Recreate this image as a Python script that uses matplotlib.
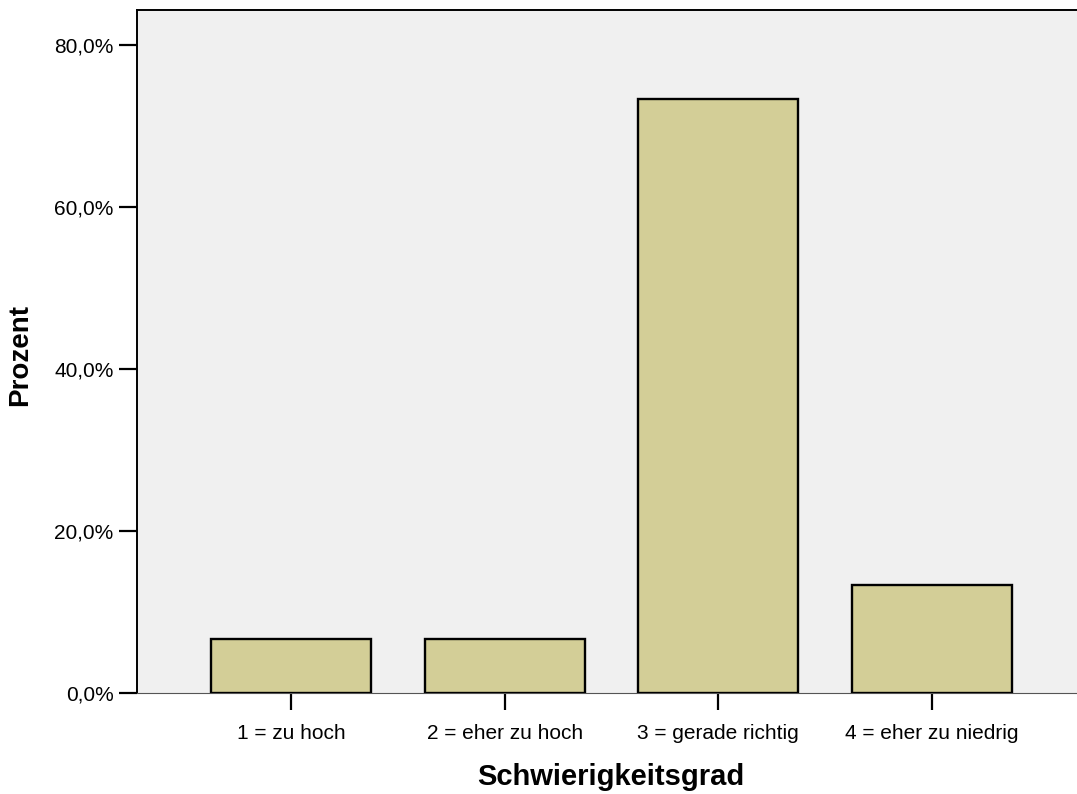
import matplotlib.pyplot as plt
from matplotlib.ticker import FuncFormatter

kategorien = ['1 = zu hoch', '2 = eher zu hoch', '3 = gerade richtig', '4 = eher zu niedrig']
prozent = [6.7, 6.7, 73.3, 13.3]
y_ticks = [0, 20, 40, 60, 80]

plt.rcParams['font.family'] = ['Liberation Sans', 'DejaVu Sans']

fig = plt.figure(figsize=(10.77, 7.94), dpi=100)
ax = fig.add_axes([137 / 1077, 1 - 693 / 794, 1 - 137 / 1077, (693 - 10) / 794])
ax.set_facecolor('#f0f0f0')

pos = list(range(len(kategorien)))
ax.bar(pos, prozent, width=0.75, color='#d3ce97', edgecolor='black', linewidth=1.7, zorder=3)

ax.set_xlim(-0.721, 3.679)
ax.set_ylim(0, 84.3)
ax.set_xticks(pos)
ax.set_xticklabels(kategorien, fontsize=15)
ax.set_yticks(y_ticks)
ax.yaxis.set_major_formatter(FuncFormatter(lambda v, p: f'{v:.1f}%'.replace('.', ',')))
ax.tick_params(axis='y', labelsize=15, length=13, width=1.6, pad=4)
ax.tick_params(axis='x', length=12, width=1.6, pad=10)

ax.spines['right'].set_visible(False)
ax.spines['left'].set_linewidth(1.4)
ax.spines['top'].set_linewidth(1.4)
ax.spines['bottom'].set_color('#555555')
ax.spines['bottom'].set_linewidth(0.8)

ax.set_xlabel('Schwierigkeitsgrad', fontsize=21, fontweight='bold')
ax.set_ylabel('Prozent', fontsize=20, fontweight='bold')
ax.xaxis.set_label_coords(0.504, -0.102)
ax.yaxis.set_label_coords(-0.1106, 0.495)

fig.savefig('out.png', dpi=100)
